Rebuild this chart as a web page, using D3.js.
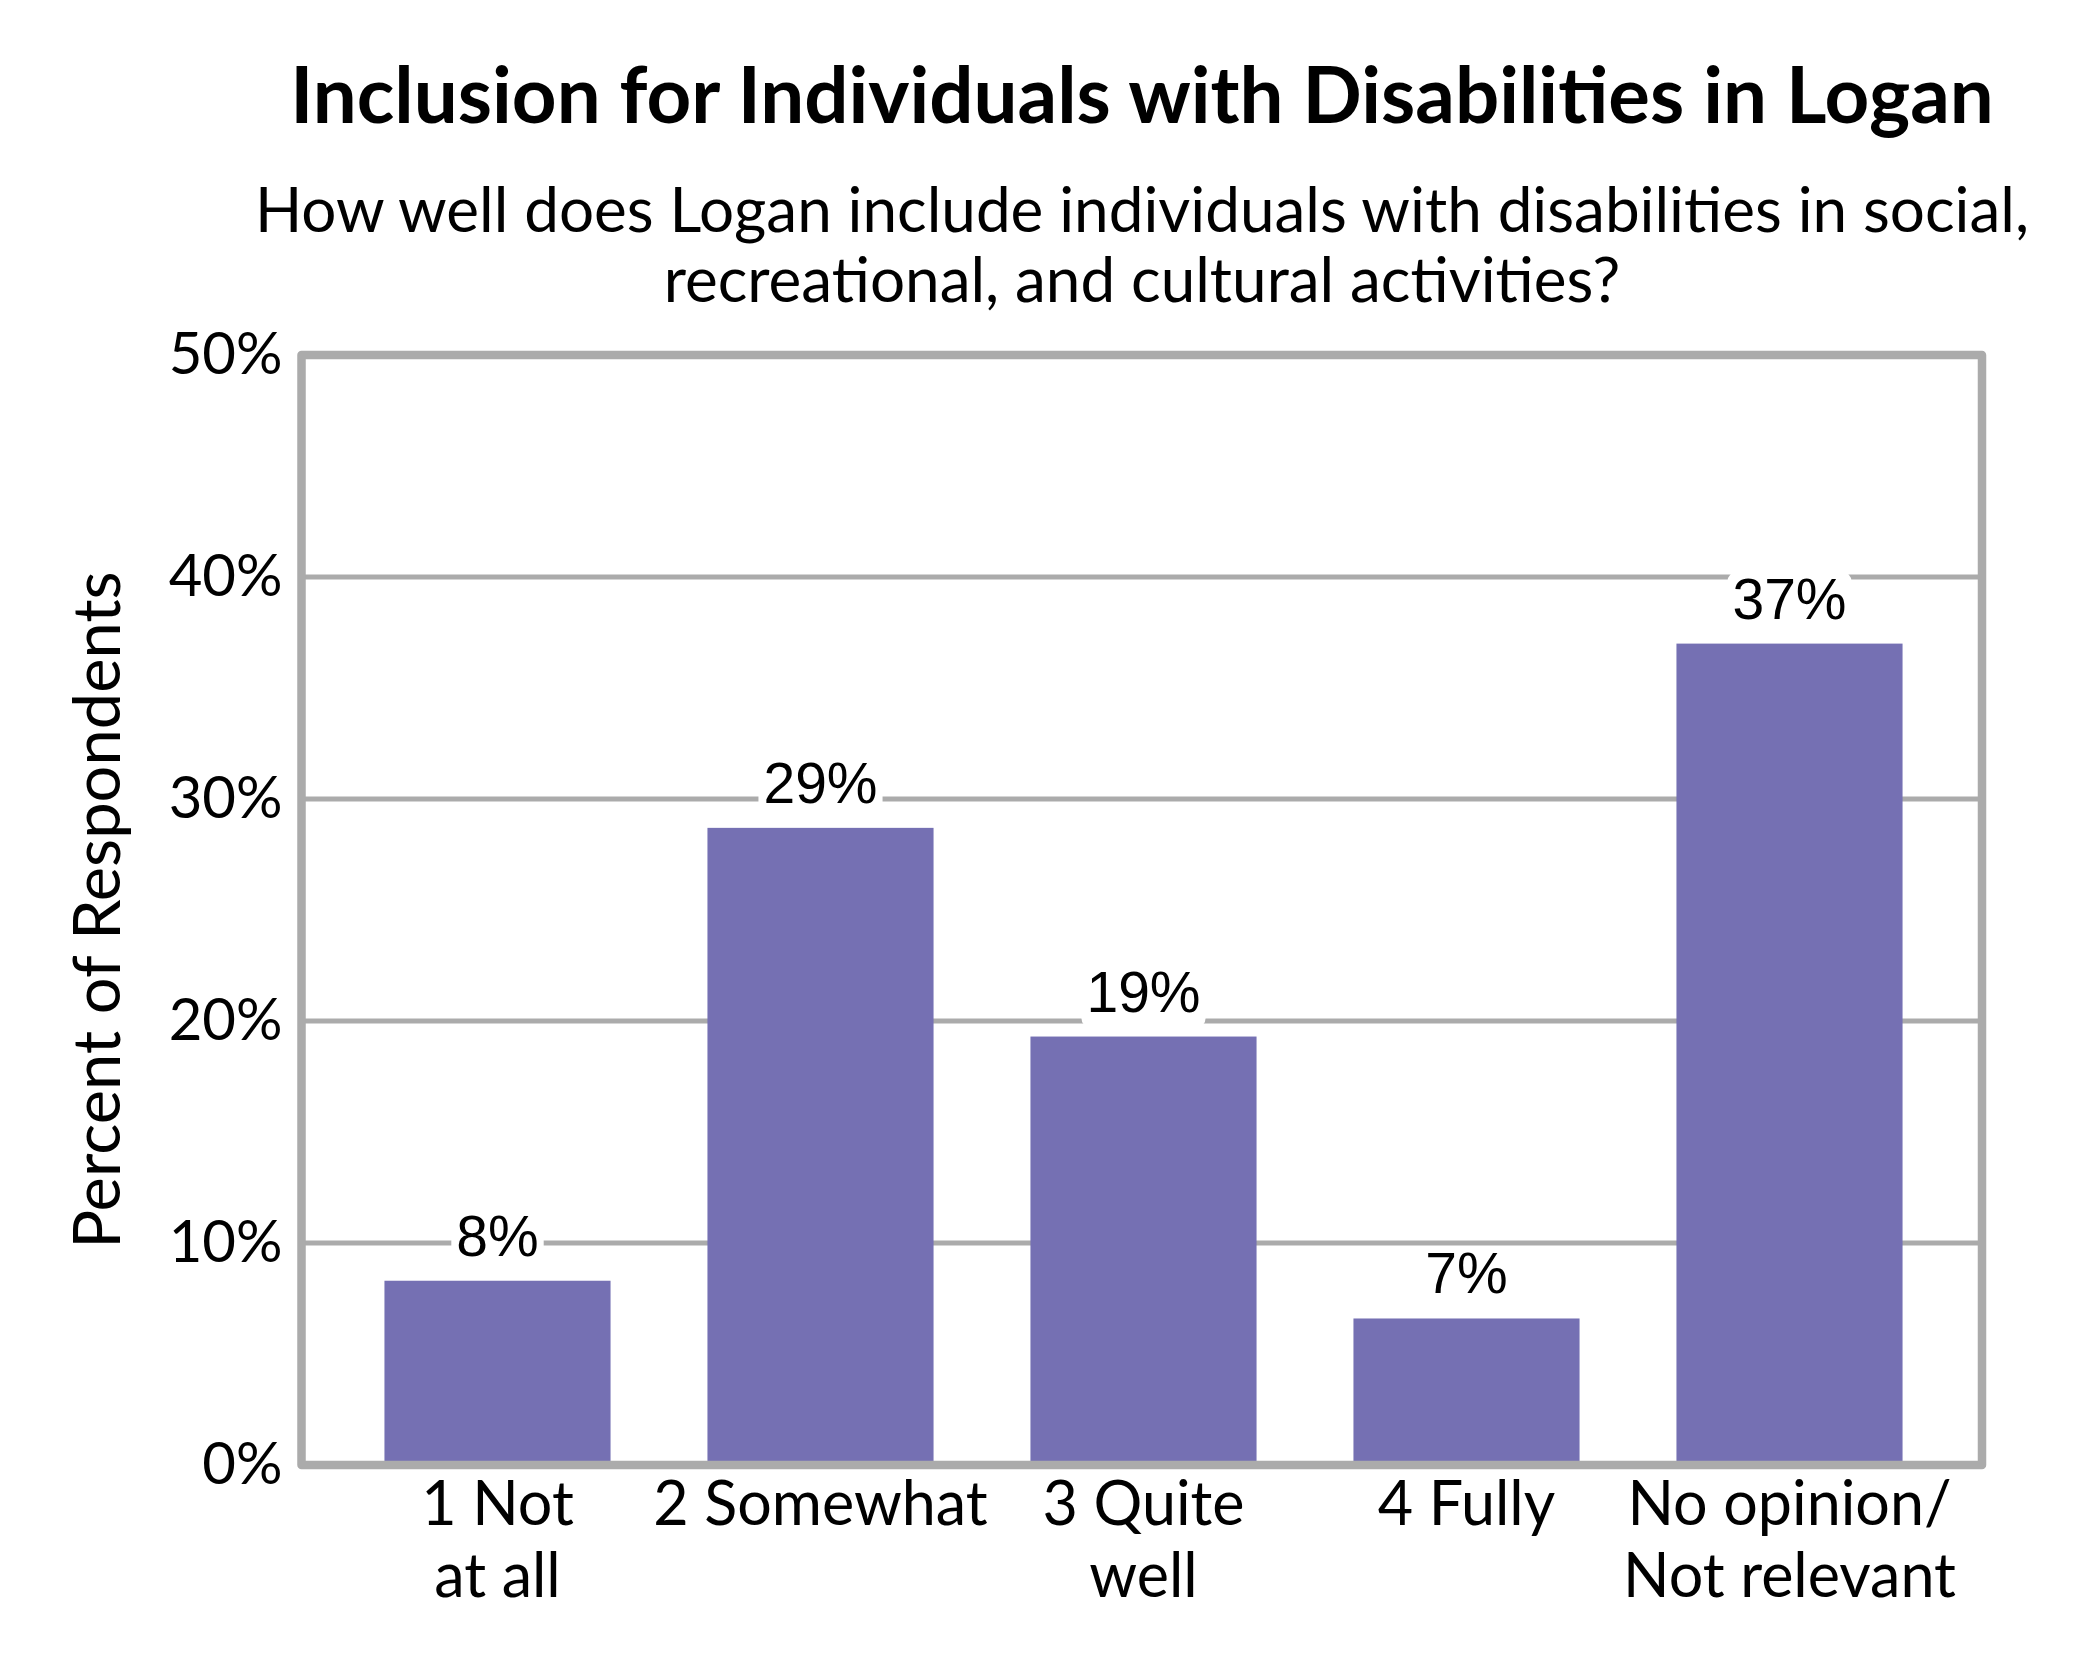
<!DOCTYPE html>
<html>
<head>
<meta charset="utf-8">
<script src="https://cdn.jsdelivr.net/npm/d3@7"></script>
<style>
  body { margin: 0; background: #fff; }
  svg { display: block; }
</style>
</head>
<body>
<div id="chart"></div>
<script>
// chart values
const categories = [
  ["1 Not", "at all"],
  ["2 Somewhat"],
  ["3 Quite", "well"],
  ["4 Fully"],
  ["No opinion/", "Not relevant"]
];
const values = [8.3, 28.7, 19.3, 6.6, 37.0];
const yTicks = [0, 10, 20, 30, 40, 50];

const title = "Inclusion for Individuals with Disabilities in Logan";
const subtitle = [
  "How well does Logan include individuals with disabilities in social,",
  "recreational, and cultural activities?"
];
const yTitle = "Percent of Respondents";

const width = 2100, height = 1680;
const plot = { left: 301.5, right: 1982, top: 355, bottom: 1465 };
const barColor = "#7570b3";
const gridColor = "#ababab";
const uiFont = "Lato, 'Open Sans', sans-serif";
const labelFont = "'Liberation Sans', Arial, sans-serif";
const titleX = 1142;

const svg = d3.select("#chart")
  .append("svg")
  .attr("width", width)
  .attr("height", height);

const x = d3.scaleBand()
  .domain(d3.range(categories.length))
  .range([336, 1951])
  .paddingInner(0.3)
  .paddingOuter(0.15);

const y = d3.scaleLinear()
  .domain([0, 50])
  .range([plot.bottom, plot.top]);

// gridlines
svg.append("g")
  .selectAll("line")
  .data(yTicks.slice(1, -1))
  .join("line")
  .attr("x1", plot.left)
  .attr("x2", plot.right)
  .attr("y1", d => y(d))
  .attr("y2", d => y(d))
  .attr("stroke", gridColor)
  .attr("stroke-width", 5);

// bars
svg.append("g")
  .selectAll("rect")
  .data(values)
  .join("rect")
  .attr("x", (d, i) => x(i))
  .attr("width", x.bandwidth())
  .attr("y", d => y(d))
  .attr("height", d => y(0) - y(d))
  .attr("fill", barColor);

// frame around the plot
svg.append("rect")
  .attr("x", plot.left)
  .attr("y", plot.top)
  .attr("width", plot.right - plot.left)
  .attr("height", plot.bottom - plot.top)
  .attr("fill", "none")
  .attr("stroke", gridColor)
  .attr("stroke-width", 8.5)
  .attr("stroke-linejoin", "round");

// y axis tick labels
const yAxis = svg.append("g")
  .attr("transform", `translate(${plot.left},0)`)
  .call(d3.axisLeft(y).tickValues(yTicks).tickFormat(d => d + "%").tickSize(0).tickPadding(19));
yAxis.select(".domain").remove();
yAxis.selectAll("text")
  .attr("font-family", uiFont)
  .attr("font-size", 58)
  .attr("fill", "#000");

// x axis category labels
const xLabels = svg.append("g")
  .selectAll("text")
  .data(categories)
  .join("text")
  .attr("x", (d, i) => x(i) + x.bandwidth() / 2)
  .attr("y", 1525)
  .attr("text-anchor", "middle")
  .attr("font-family", uiFont)
  .attr("font-size", 61)
  .attr("fill", "#000");
xLabels.selectAll("tspan")
  .data(d => d)
  .join("tspan")
  .attr("x", function() { return this.parentNode.getAttribute("x"); })
  .attr("dy", (d, i) => i === 0 ? 0 : 72)
  .text(d => d);

// value labels with white boxes
const fmt = v => Math.round(v) + "%";
const valueLabels = svg.append("g")
  .selectAll("g")
  .data(values)
  .join("g");
valueLabels.append("rect")
  .attr("fill", "#fff")
  .attr("rx", 10);
valueLabels.append("text")
  .attr("x", (d, i) => x(i) + x.bandwidth() / 2)
  .attr("y", d => y(d) - 25)
  .attr("text-anchor", "middle")
  .attr("font-family", labelFont)
  .attr("font-size", 57)
  .attr("fill", "#000")
  .text(fmt);
valueLabels.each(function() {
  const g = d3.select(this);
  const b = g.select("text").node().getBBox();
  g.select("rect")
    .attr("x", b.x - 5)
    .attr("y", b.y + 5)
    .attr("width", b.width + 10)
    .attr("height", b.height);
});

// y axis title
svg.append("text")
  .attr("transform", `translate(95,${(plot.top + plot.bottom) / 2}) rotate(-90)`)
  .attr("text-anchor", "middle")
  .attr("dominant-baseline", "central")
  .attr("font-family", uiFont)
  .attr("font-size", 65)
  .attr("fill", "#000")
  .text(yTitle);

// titles
svg.append("text")
  .attr("x", titleX)
  .attr("y", 123)
  .attr("text-anchor", "middle")
  .attr("font-family", uiFont)
  .attr("font-weight", "bold")
  .attr("font-size", 78)
  .attr("fill", "#000")
  .text(title);

svg.append("g")
  .selectAll("text")
  .data(subtitle)
  .join("text")
  .attr("x", titleX)
  .attr("y", (d, i) => 232 + i * 70)
  .attr("text-anchor", "middle")
  .attr("font-family", uiFont)
  .attr("font-size", 62)
  .attr("fill", "#000")
  .text(d => d);
</script>
</body>
</html>
